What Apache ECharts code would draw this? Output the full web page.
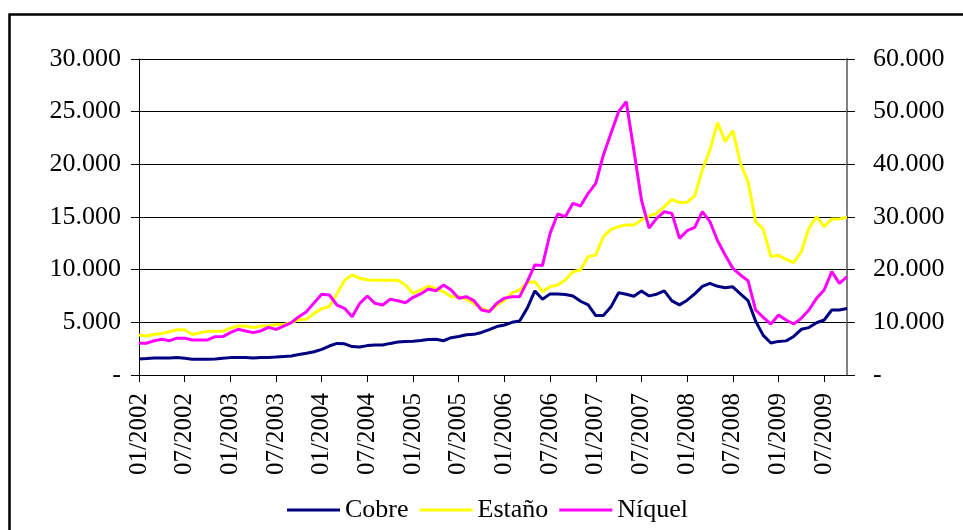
<!DOCTYPE html>
<html>
<head>
<meta charset="utf-8">
<script src="https://cdn.jsdelivr.net/npm/echarts@6/dist/echarts.min.js"></script>
<style>
html,body{margin:0;padding:0;background:#fff;}
#c{width:963px;height:530px;}
</style>
</head>
<body>
<div id="c"></div>
<script>
// Monthly categories 01/2002 .. 10/2009
var years = [2002, 2003, 2004, 2005, 2006, 2007, 2008, 2009];
var months = ['01','02','03','04','05','06','07','08','09','10','11','12'];
var categories = [];
years.forEach(function (y) {
  months.forEach(function (m) {
    if (y === 2009 && +m > 10) return;
    categories.push(m + '/' + y);
  });
});

var seriesNames = ['Cobre', 'Estaño', 'Níquel'];

var cobre = [
  1510,1560,1620,1610,1620,1650,1600,1500,1490,1490,1520,1590,
  1650,1670,1660,1620,1650,1670,1700,1760,1800,1940,2060,2210,
  2430,2750,3000,2960,2700,2660,2790,2840,2850,3000,3130,3180,
  3200,3280,3380,3390,3250,3540,3650,3820,3860,4040,4300,4600,
  4750,5000,5130,6350,7980,7190,7700,7690,7650,7500,7000,6660,
  5640,5640,6470,7800,7670,7480,7970,7510,7670,7990,7040,6660,
  7100,7700,8410,8700,8420,8290,8370,7700,7060,5100,3760,3040,
  3190,3240,3660,4340,4500,4960,5220,6170,6180,6310
];

var estano = [
  3800,3700,3850,3950,4100,4300,4300,3850,4000,4150,4150,4150,
  4450,4650,4650,4500,4650,4650,4800,4800,4970,5250,5300,5850,
  6300,6500,7700,9000,9500,9180,9020,9000,9000,9000,9000,8550,
  7750,8070,8450,8230,7900,7440,7440,7200,6800,6330,6080,6650,
  7060,7800,8070,8770,8860,7910,8390,8550,9020,9810,9970,11240,
  11400,13140,13830,14090,14250,14250,14720,15100,15350,15990,16680,16370,
  16400,17000,19470,21370,23960,22160,23200,20100,18360,14560,13840,11240,
  11360,10980,10670,11710,13930,15040,14090,14820,14820,14970
];

var niquel = [
  6010,6050,6500,6770,6520,7000,7000,6650,6650,6650,7280,7300,
  8040,8670,8360,8040,8360,9050,8670,9300,9940,11080,12030,13730,
  15320,15190,13290,12660,11080,13610,15000,13610,13290,14370,14110,13730,
  14750,15380,16330,16010,17090,16140,14560,14870,14110,12340,12030,13610,
  14600,14870,14870,17720,20890,20800,26900,30570,30060,32600,32090,34500,
  36390,41770,45890,50000,51900,42720,33230,27900,29750,31010,30690,25950,
  27400,28040,31010,29110,25500,22780,20250,18990,17910,12340,10950,9680,
  11390,10440,9680,10760,12340,14560,16140,19620,17410,18670
];

var FONT = '"Liberation Serif", "Times New Roman", serif';

function fmt(v) {
  if (v === 0) return '-';
  return String(v).replace(/\B(?=(\d{3})+(?!\d))/g, '.');
}

var chart = echarts.init(document.getElementById('c'), null, { renderer: 'canvas' });
chart.setOption({
  animation: false,
  backgroundColor: '#ffffff',
  graphic: [{
    type: 'rect',
    shape: { x: 9.5, y: 14.5, width: 1000, height: 600 },
    style: { fill: 'none', stroke: '#000', lineWidth: 2.5 },
    silent: true,
    z: 100
  }],
  grid: { left: 139, right: 116, top: 59, bottom: 155, containLabel: false },
  legend: {
    data: seriesNames,
    left: 282,
    top: 492,
    icon: 'rect',
    itemWidth: 53,
    itemHeight: 3,
    itemGap: 11,
    textStyle: { fontFamily: FONT, fontSize: 26, color: '#000' }
  },
  xAxis: {
    type: 'category',
    data: categories,
    boundaryGap: false,
    axisLine: { show: true, lineStyle: { color: '#000', width: 1 } },
    axisTick: { show: true, interval: 5, length: 7, lineStyle: { color: '#000' } },
    axisLabel: {
      interval: 5,
      rotate: 90,
      margin: 18,
      fontFamily: FONT,
      fontSize: 25,
      color: '#000'
    },
    splitLine: { show: false }
  },
  yAxis: [{
    type: 'value',
    min: 0, max: 30000, interval: 5000,
    axisLine: { show: true, lineStyle: { color: '#000', width: 1 } },
    axisTick: { show: true, length: 8, lineStyle: { color: '#000' } },
    axisLabel: { formatter: fmt, margin: 18, fontFamily: FONT, fontSize: 26, color: '#000' },
    splitLine: { show: true, lineStyle: { color: '#000', width: 1 } }
  }, {
    type: 'value',
    min: 0, max: 60000, interval: 10000,
    position: 'right',
    axisLine: { show: true, lineStyle: { color: '#808080', width: 2 } },
    axisTick: { show: true, length: 8, lineStyle: { color: '#000' } },
    axisLabel: { formatter: fmt, margin: 26, fontFamily: FONT, fontSize: 26, color: '#000' },
    splitLine: { show: false }
  }],
  series: [{
    name: seriesNames[0],
    type: 'line',
    data: cobre,
    yAxisIndex: 0,
    showSymbol: false,
    itemStyle: { color: '#000080' },
    lineStyle: { color: '#000080', width: 3 }
  }, {
    name: seriesNames[1],
    type: 'line',
    data: estano,
    yAxisIndex: 0,
    showSymbol: false,
    itemStyle: { color: '#FFFF00' },
    lineStyle: { color: '#FFFF00', width: 3 }
  }, {
    name: seriesNames[2],
    type: 'line',
    data: niquel,
    yAxisIndex: 1,
    showSymbol: false,
    itemStyle: { color: '#FF00FF' },
    lineStyle: { color: '#FF00FF', width: 3 }
  }]
});
</script>
</body>
</html>
